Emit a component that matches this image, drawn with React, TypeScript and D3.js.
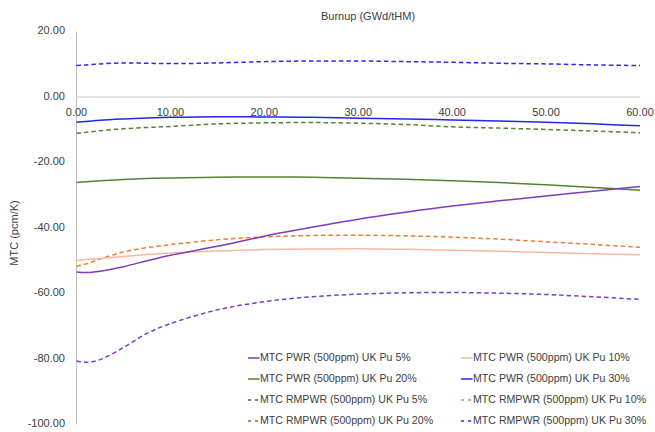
import React from "react";
import * as d3 from "d3";

// Burnup points (GWd/tHM) shared by every series
const burnup = [0, 1, 2.5, 5, 7.5, 10, 15, 20, 25, 30, 35, 40, 45, 50, 55, 60];

// Moderator temperature coefficient (pcm/K)
const pwrPu5 = [-53.4, -53.6, -53.2, -51.8, -50.0, -48.3, -45.6, -42.5, -39.8, -37.3, -35.2, -33.3, -31.7, -30.2, -28.8, -27.3];
const pwrPu10 = [-49.9, -49.6, -49.3, -48.7, -48.1, -47.6, -47.0, -46.6, -46.4, -46.3, -46.5, -46.8, -47.1, -47.5, -47.9, -48.2];
const pwrPu20 = [-26.1, -25.9, -25.6, -25.2, -24.9, -24.7, -24.5, -24.4, -24.5, -24.8, -25.1, -25.6, -26.1, -26.8, -27.6, -28.5];
const pwrPu30 = [-7.7, -7.5, -7.1, -6.7, -6.4, -6.2, -6.0, -6.1, -6.2, -6.5, -6.7, -7.0, -7.3, -7.7, -8.2, -8.8];
const rmpwrPu5 = [-80.6, -81.0, -80.2, -76.5, -72.2, -69.2, -65.0, -62.5, -61.0, -60.2, -59.8, -59.7, -59.9, -60.3, -61.0, -61.8];
const rmpwrPu10 = [-51.7, -51.0, -49.5, -47.3, -46.0, -45.1, -43.6, -42.7, -42.3, -42.2, -42.4, -42.8, -43.4, -44.2, -45.0, -45.9];
const rmpwrPu20 = [-11.1, -10.8, -10.3, -9.7, -9.3, -9.0, -8.2, -7.9, -7.8, -8.0, -8.4, -9.1, -9.5, -9.9, -10.4, -10.9];
const rmpwrPu30 = [9.6, 9.8, 10.1, 10.4, 10.3, 10.2, 10.4, 10.8, 11.0, 11.0, 10.8, 10.6, 10.3, 10.1, 9.8, 9.6];

const xTicks = [0, 10, 20, 30, 40, 50, 60];
const yTicks = [20, 0, -20, -40, -60, -80, -100];

const seriesNames = [
  "MTC PWR (500ppm) UK Pu 5%",
  "MTC PWR (500ppm) UK Pu 10%",
  "MTC PWR (500ppm) UK Pu 20%",
  "MTC PWR (500ppm) UK Pu 30%",
  "MTC RMPWR (500ppm) UK Pu 5%",
  "MTC RMPWR (500ppm) UK Pu 10%",
  "MTC RMPWR (500ppm) UK Pu 20%",
  "MTC RMPWR (500ppm) UK Pu 30%",
];
const seriesValues = [pwrPu5, pwrPu10, pwrPu20, pwrPu30, rmpwrPu5, rmpwrPu10, rmpwrPu20, rmpwrPu30];
const seriesColors = ["#7A3CC0", "#F6B9A0", "#548235", "#2424F0", "#7A3CC0", "#ED7D31", "#548235", "#2A2AF5"];
const seriesDashed = [false, false, false, false, true, true, true, true];

const W = 655;
const H = 432;
const FONT = "'Liberation Sans', Arial, sans-serif";

export default function App() {
  const x = d3.scaleLinear().domain([0, 60]).range([76.5, 640]);
  const y = d3.scaleLinear().domain([20, -100]).range([31.5, 424.5]);

  const line = d3
    .line<[number, number]>()
    .x((d) => x(d[0]))
    .y((d) => y(d[1]))
    .curve(d3.curveCatmullRom.alpha(0.5));

  // Draw order: dashed series underneath, then solid lines
  const order = [7, 6, 5, 4, 3, 2, 1, 0];

  const legendCols = [248, 461];
  const legendRows = [358, 379, 400, 421];

  return (
    <svg
      width={W}
      height={H}
      style={{ position: "absolute", left: 0, top: 0, background: "#fff" }}
      fontFamily={FONT}
    >
      <rect width={W} height={H} fill="#fff" />

      {/* title */}
      <text x={368} y={17} fontSize={11} fill="#404040" textAnchor="middle" dominantBaseline="middle">
        Burnup (GWd/tHM)
      </text>

      {/* vertical axis */}
      <line x1={x(0)} x2={x(0)} y1={y(20)} y2={y(-100)} stroke="#BFBFBF" strokeWidth={1} />
      {/* horizontal axis at zero */}
      <line x1={x(0)} x2={x(60)} y1={y(0)} y2={y(0)} stroke="#D9D9D9" strokeWidth={1.5} />

      {yTicks.map((t) => (
        <text
          key={`y${t}`}
          x={65}
          y={y(t)}
          fontSize={11}
          fill="#404040"
          textAnchor="end"
          dominantBaseline="middle"
        >
          {t.toFixed(2)}
        </text>
      ))}
      {xTicks.map((t) => (
        <text
          key={`x${t}`}
          x={x(t)}
          y={113}
          fontSize={11}
          fill="#404040"
          textAnchor="middle"
          dominantBaseline="middle"
        >
          {t.toFixed(2)}
        </text>
      ))}

      <text
        transform={`translate(15,233) rotate(-90)`}
        fontSize={11}
        fill="#404040"
        textAnchor="middle"
        dominantBaseline="middle"
      >
        MTC (pcm/K)
      </text>

      {/* series */}
      {order.map((i) => {
        const pts = burnup.map((b, k) => [b, seriesValues[i][k]] as [number, number]);
        return (
          <path
            key={`s${i}`}
            d={line(pts) || ""}
            fill="none"
            stroke={seriesColors[i]}
            strokeWidth={1.5}
            strokeDasharray={seriesDashed[i] ? "4.5,3" : undefined}
          />
        );
      })}

      {/* legend */}
      {seriesNames.map((name, i) => {
        const lx = legendCols[i % 2];
        const ly = legendRows[Math.floor(i / 2)];
        return (
          <g key={`l${i}`}>
            <line
              x1={lx}
              x2={lx + 11.5}
              y1={ly}
              y2={ly}
              stroke={seriesColors[i]}
              strokeWidth={1.5}
              strokeDasharray={seriesDashed[i] ? "3,4" : undefined}
            />
            <text x={lx + 12} y={ly} fontSize={10.6} fill="#404040" dominantBaseline="middle">
              {name}
            </text>
          </g>
        );
      })}
    </svg>
  );
}
